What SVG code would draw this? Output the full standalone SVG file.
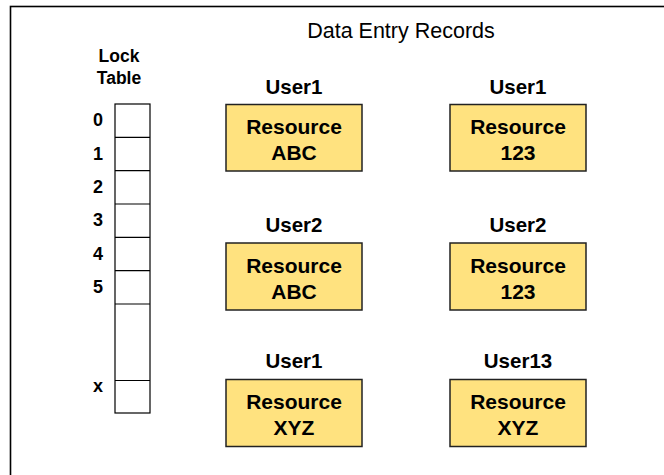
<svg xmlns="http://www.w3.org/2000/svg" width="664" height="475" viewBox="0 0 664 475">
<style>
.b{font-family:"Liberation Sans",Arial,sans-serif;font-weight:bold;fill:#000;text-anchor:middle}
.res{fill:#FFE27F;stroke:#222;stroke-width:1.5}
.cell{fill:#fff;stroke:#000;stroke-width:1.2}
.u{font-size:20.5px}
.r{font-size:21px}
.n{font-size:18px}
.lt{font-size:17.5px}
</style>
<rect width="664" height="475" fill="#fff"/>
<rect x="10.5" y="6.5" width="670" height="480" fill="none" stroke="#000" stroke-width="1.6"/>
<text x="401" y="38" font-family="'Liberation Sans',Arial,sans-serif" font-size="21.5" text-anchor="middle">Data Entry Records</text>
<g id="lock-table">
<text class="b lt" x="119" y="62">Lock</text>
<text class="b lt" x="119" y="84">Table</text>
<rect class="cell" x="115" y="104" width="35" height="309"/>
<line x1="115" y1="137.3" x2="150" y2="137.3" stroke="#000" stroke-width="1.2"/>
<line x1="115" y1="170.7" x2="150" y2="170.7" stroke="#000" stroke-width="1.2"/>
<line x1="115" y1="204" x2="150" y2="204" stroke="#000" stroke-width="1.2"/>
<line x1="115" y1="237.3" x2="150" y2="237.3" stroke="#000" stroke-width="1.2"/>
<line x1="115" y1="270.7" x2="150" y2="270.7" stroke="#000" stroke-width="1.2"/>
<line x1="115" y1="304" x2="150" y2="304" stroke="#000" stroke-width="1.2"/>
<line x1="115" y1="380.5" x2="150" y2="380.5" stroke="#000" stroke-width="1.2"/>
<text class="b n" x="98" y="126">0</text>
<text class="b n" x="98" y="160">1</text>
<text class="b n" x="98" y="193">2</text>
<text class="b n" x="98" y="226">3</text>
<text class="b n" x="98" y="260">4</text>
<text class="b n" x="98" y="293">5</text>
<text class="b n" x="98" y="392">x</text>
</g>
<g id="user1-abc">
<text class="b u" x="294" y="94">User1</text>
<rect class="res" x="226" y="104.5" width="136" height="66.5"/>
<text class="b r" x="294" y="134">Resource</text>
<text class="b r" x="294" y="160">ABC</text>
</g>
<g id="user1-123">
<text class="b u" x="518" y="94">User1</text>
<rect class="res" x="450" y="104.5" width="136" height="66.5"/>
<text class="b r" x="518" y="134">Resource</text>
<text class="b r" x="518" y="160">123</text>
</g>
<g id="user2-abc">
<text class="b u" x="294" y="232">User2</text>
<rect class="res" x="226" y="243" width="136" height="67"/>
<text class="b r" x="294" y="273">Resource</text>
<text class="b r" x="294" y="299">ABC</text>
</g>
<g id="user2-123">
<text class="b u" x="518" y="232">User2</text>
<rect class="res" x="450" y="243" width="136" height="67"/>
<text class="b r" x="518" y="273">Resource</text>
<text class="b r" x="518" y="299">123</text>
</g>
<g id="user1-xyz">
<text class="b u" x="294" y="368">User1</text>
<rect class="res" x="226" y="379.5" width="136" height="67"/>
<text class="b r" x="294" y="409">Resource</text>
<text class="b r" x="294" y="435">XYZ</text>
</g>
<g id="user13-xyz">
<text class="b u" x="518" y="368">User13</text>
<rect class="res" x="450" y="379.5" width="136" height="67"/>
<text class="b r" x="518" y="409">Resource</text>
<text class="b r" x="518" y="435">XYZ</text>
</g>
<g id="connectors"></g>
</svg>
